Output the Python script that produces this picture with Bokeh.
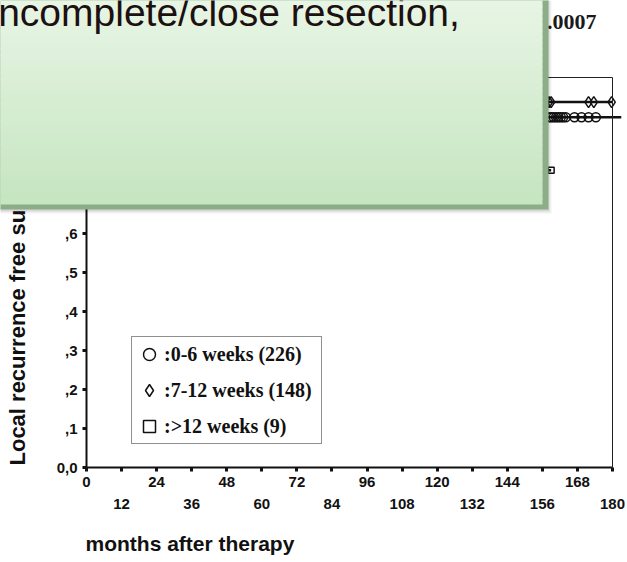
import numpy as np
from bokeh.plotting import figure
from bokeh.models import (FixedTicker, LinearAxis, Range1d, Label, BoxAnnotation,
                          Legend, LegendItem)
from bokeh.embed import file_html
from bokeh.resources import INLINE

# ---------------- data ----------------
# Kaplan-Meier steps: 0-6 weeks (226)
t_0_6 = [0, 4, 9, 14, 20, 27, 35, 46, 62, 85, 183]
s_0_6 = [1.0, 0.987, 0.973, 0.960, 0.947, 0.933, 0.922, 0.912, 0.905, 0.898, 0.898]
cens_0_6 = [158.3, 159.1, 159.9, 160.7, 161.5, 162.3, 163.1, 164.0, 167.0, 169.4, 171.8, 174.3]

# 7-12 weeks (148)
t_7_12 = [0, 6, 13, 22, 31, 44, 70, 180]
s_7_12 = [1.0, 0.986, 0.973, 0.959, 0.951, 0.944, 0.937, 0.937]
cens_7_12 = [158.3, 159.0, 171.8, 173.6, 179.7]

# >12 weeks (9)
t_gt12 = [0, 14, 30, 159]
s_gt12 = [1.0, 0.889, 0.762, 0.762]
cens_gt12 = [159.0]

legend_labels = [":0-6 weeks (226)", ":7-12 weeks (148)", ":>12 weeks (9)"]

x_ticks = [0, 12, 24, 36, 48, 60, 72, 84, 96, 108, 120, 132, 144, 156, 168, 180]
x_ticks_row1 = [0, 24, 48, 72, 96, 120, 144, 168]
x_ticks_row2 = [12, 36, 60, 84, 108, 132, 156, 180]
y_ticks = [0.0, 0.1, 0.2, 0.3, 0.4, 0.5, 0.6, 0.7, 0.8, 0.9, 1.0]
y_tick_labels = ["0,0", ",1", ",2", ",3", ",4", ",5", ",6", ",7", ",8", ",9", "1,0"]

x_title = "months after therapy"
y_title = "Local recurrence free survival"
p_text = "p=0.0007"
note_text = "incomplete/close resection,"


def km_at(times, surv, t):
    idx = np.searchsorted(np.asarray(times), np.asarray(t), side="right") - 1
    return list(np.asarray(surv)[idx])


# ---------------- layout (pixels) ----------------
W, H = 627, 562
X0_PX, X180_PX = 86.0, 612.0     # pixel of month 0 / month 180
Y0_PX, Y1_PX = 467.0, 77.0       # pixel of survival 0 / 1
ppx = (X180_PX - X0_PX) / 180.0
ppy = (Y0_PX - Y1_PX) / 1.0
x_lo, x_hi = -X0_PX / ppx, (W - X0_PX) / ppx
y_hi, y_lo = 1.0 + Y1_PX / ppy, -(H - Y0_PX) / ppy

p = figure(width=W, height=H, output_backend="svg", toolbar_location=None, tools="",
           x_range=Range1d(x_lo, x_hi), y_range=Range1d(y_lo, y_hi),
           x_axis_location=None, y_axis_location=None,
           min_border=0, background_fill_color="white", border_fill_color="white")
p.grid.visible = False
p.outline_line_color = None

tick_font = "Liberation Sans"
INK = "#111111"

# y axis
ya = LinearAxis(fixed_location=0, bounds=(0, 1), ticker=FixedTicker(ticks=y_ticks),
                major_label_overrides={t: l for t, l in zip(y_ticks, y_tick_labels)},
                axis_line_width=2, axis_line_color=INK,
                major_tick_line_width=3, major_tick_line_color=INK,
                major_tick_out=4, major_tick_in=0, minor_tick_line_color=None,
                major_label_standoff=5, major_label_text_font=tick_font,
                major_label_text_font_style="bold", major_label_text_font_size="15px",
                major_label_text_color=INK)
p.add_layout(ya, "left")

# x axis, first row of labels
xa = LinearAxis(fixed_location=0, bounds=(0, 180), ticker=FixedTicker(ticks=x_ticks),
                major_label_overrides={t: (str(t) if t in x_ticks_row1 else "") for t in x_ticks},
                axis_line_width=2, axis_line_color=INK,
                major_tick_line_width=3, major_tick_line_color=INK,
                major_tick_out=4, major_tick_in=0, minor_tick_line_color=None,
                major_label_standoff=5, major_label_text_font=tick_font,
                major_label_text_font_style="bold", major_label_text_font_size="15px",
                major_label_text_color=INK)
p.add_layout(xa, "below")

# x axis, second row of labels
xa2 = LinearAxis(fixed_location=0, bounds=(0, 180), ticker=FixedTicker(ticks=x_ticks_row2),
                 axis_line_color=None, major_tick_line_color=None,
                 minor_tick_line_color=None, major_tick_out=0, major_tick_in=0,
                 major_label_standoff=31,
                 major_label_text_font=tick_font, major_label_text_font_style="bold",
                 major_label_text_font_size="15px", major_label_text_color=INK)
p.add_layout(xa2, "below")

# frame lines (top and right)
frame_kw = dict(ticker=FixedTicker(ticks=[]), axis_line_color="#222222", axis_line_width=1,
                major_tick_line_color=None, minor_tick_line_color=None,
                major_label_text_font_size="0px")
p.add_layout(LinearAxis(fixed_location=1.0, bounds=(0, 180), **frame_kw), "above")
p.add_layout(LinearAxis(fixed_location=180, bounds=(0, 1), **frame_kw), "right")

# curves
line_kw = dict(line_color=INK, line_width=2.5, mode="after")
p.step(t_0_6, s_0_6, **line_kw)
p.step(t_7_12, s_7_12, **line_kw)
p.step(t_gt12, s_gt12, **line_kw)

mk = dict(line_color=INK, line_width=1.5, fill_color=None)
r_c = p.scatter(cens_0_6, km_at(t_0_6, s_0_6, cens_0_6), marker="circle", size=9, **mk)
r_d = p.scatter(cens_7_12, km_at(t_7_12, s_7_12, cens_7_12), marker="diamond", size=11, **mk)
r_s = p.scatter(cens_gt12, km_at(t_gt12, s_gt12, cens_gt12), marker="square", size=6, **mk)

legend = Legend(items=[LegendItem(label=legend_labels[0], renderers=[r_c]),
                       LegendItem(label=legend_labels[1], renderers=[r_d]),
                       LegendItem(label=legend_labels[2], renderers=[r_s])],
                location=(131, H - 444), margin=0, padding=2, spacing=6,
                glyph_width=30, glyph_height=30, label_standoff=0, label_width=155,
                label_text_font="Liberation Serif", label_text_font_style="bold",
                label_text_font_size="20px", label_text_color=INK,
                border_line_color="#222222", border_line_width=1.5,
                background_fill_color="white", background_fill_alpha=1.0)
p.add_layout(legend)

# axis titles
p.add_layout(Label(x=85, y=543, x_units="canvas", y_units="canvas", text=x_title,
                   text_font="Liberation Sans", text_font_style="bold",
                   text_font_size="21px", text_color=INK,
                   text_align="left", text_baseline="middle"))
p.add_layout(Label(x=17, y=465, x_units="canvas", y_units="canvas", text=y_title,
                   angle=np.pi / 2, text_font="Liberation Sans", text_font_style="bold",
                   text_font_size="22px", text_color=INK,
                   text_align="left", text_baseline="middle"))

# p-value text (partly hidden by the callout)
p.add_layout(Label(x=596, y=21, x_units="canvas", y_units="canvas", text=p_text,
                   text_font="Liberation Serif", text_font_style="bold",
                   text_font_size="22px", text_color="#1a1a1a",
                   text_align="right", text_baseline="middle"))

# ---------------- green callout box ----------------
box_kw = dict(left_units="canvas", right_units="canvas", top_units="canvas",
              bottom_units="canvas", line_color=None)
p.add_layout(BoxAnnotation(left=-30, right=551, top=-30, bottom=213,
                           fill_color="#000000", fill_alpha=0.06, **box_kw))
p.add_layout(BoxAnnotation(left=-30, right=549, top=-30, bottom=211,
                           fill_color="#000000", fill_alpha=0.10, **box_kw))
p.add_layout(BoxAnnotation(left=-30, right=548, top=-30, bottom=209,
                           fill_color="#8dac88", fill_alpha=1.0, **box_kw))
c0 = np.array([0xe7, 0xf5, 0xe4])
c1 = np.array([0xc6, 0xe5, 0xc1])
n_strips = 34
for i in range(n_strips):
    f = i / (n_strips - 1)
    c = np.round(c0 + (c1 - c0) * f).astype(int)
    top = i * 6 if i > 0 else -30
    bot = min((i + 1) * 6 + 1, 204)
    p.add_layout(BoxAnnotation(left=-30, right=542, top=top, bottom=bot,
                               fill_color="#%02x%02x%02x" % tuple(c), fill_alpha=1.0, **box_kw))

p.add_layout(Label(x=-11, y=12, x_units="canvas", y_units="canvas", text=note_text,
                   text_font="Liberation Sans", text_font_size="39px",
                   text_color="#1c1010", text_align="left", text_baseline="alphabetic"))

open("out.html", "w").write(file_html(p, INLINE))
